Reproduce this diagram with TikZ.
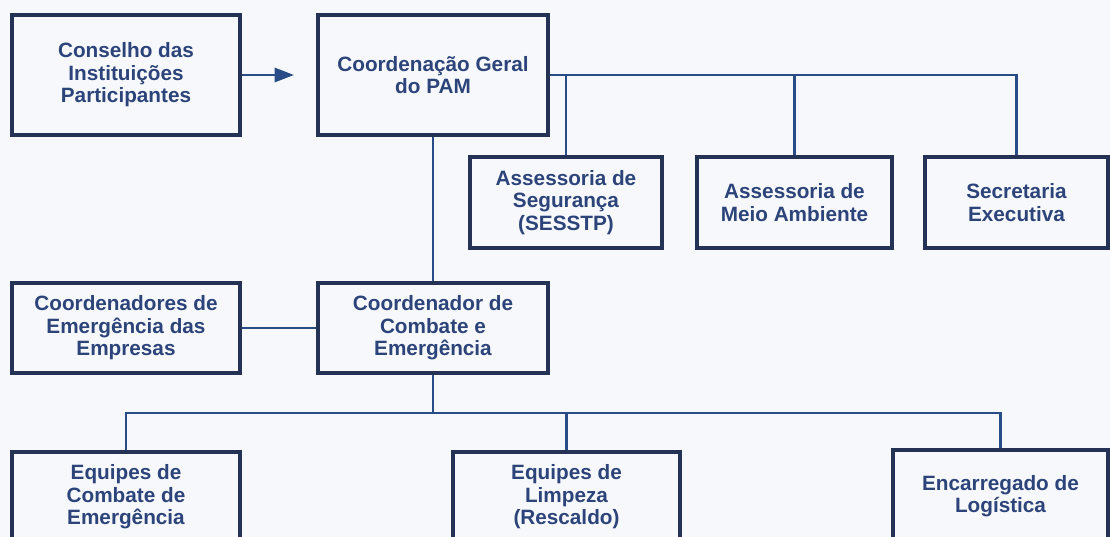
\documentclass[tikz,border=0pt]{standalone}
\usepackage{fontspec}
\setmainfont{Liberation Sans}
\usepackage{tikz}
\usetikzlibrary{arrows.meta}
\definecolor{boxline}{RGB}{36,50,86}
\definecolor{boxtext}{RGB}{44,68,122}
\definecolor{wire}{RGB}{40,76,134}
\definecolor{paper}{RGB}{246,248,251}

\begin{document}
\begin{tikzpicture}
  [x=0.02cm,y=-0.02cm,
   every node/.style={draw=boxline,line width=2.2pt,text=boxtext,align=center,
     inner sep=0pt,font=\fontsize{11.8}{12.8}\selectfont\bfseries},
   wire/.style={draw=wire,line width=1.6pt}]
  \useasboundingbox (0,0) rectangle (1110,537);
  \clip (0,0) rectangle (1110,537);
  \fill[paper] (0,0) rectangle (1110,537);

  \node[minimum width=4.56cm,minimum height=2.4cm] (cip) at (126,75) {Conselho das\\Instituições\\Participantes};
  \node[minimum width=4.6cm,minimum height=2.4cm]  (cgp) at (433,75) {Coordenação Geral\\do PAM};
  \node[minimum width=3.84cm,minimum height=1.82cm] (aseg) at (566,202.5) {Assessoria de\\Segurança\\(SESSTP)};
  \node[minimum width=3.9cm,minimum height=1.82cm]  (amb) at (794.5,202.5) {Assessoria de\\Meio Ambiente};
  \node[minimum width=3.66cm,minimum height=1.82cm] (sec) at (1016.5,202.5) {Secretaria\\Executiva};
  \node[minimum width=4.56cm,minimum height=1.8cm] (cemp) at (126,328) {Coordenadores de\\Emergência das\\Empresas};
  \node[minimum width=4.6cm,minimum height=1.8cm]  (cce) at (433,328) {Coordenador de\\Combate e\\Emergência};
  \node[minimum width=4.56cm,minimum height=1.8cm] (ecomb) at (126,497) {Equipes de\\Combate de\\Emergência};
  \node[minimum width=4.54cm,minimum height=1.8cm] (elimp) at (566.5,497) {Equipes de\\Limpeza\\(Rescaldo)};
  \node[minimum width=4.3cm,minimum height=1.84cm] (enc) at (1000.5,496) {Encarregado de\\Logística};

  \coordinate (arr) at (294,75);
  \coordinate (bus) at (433,413);

  \draw[wire,-{Triangle[length=11pt,width=8pt]}] (cip) -- (arr);
  \draw[wire] (cgp.east) -| (sec.north);
  \draw[wire] (aseg.north) -- (aseg.north |- cgp.east);
  \draw[wire] (amb.north) -- (amb.north |- cgp.east);
  \draw[wire] (cgp) -- (cce);
  \draw[wire] (cemp) -- (cce);

  \draw[wire] (cce.south) -- (bus);
  \draw[wire] (ecomb.north) |- (enc.north |- bus) -- (enc.north);
  \draw[wire] (elimp.north) -- (elimp.north |- bus);

\end{tikzpicture}
\end{document}
